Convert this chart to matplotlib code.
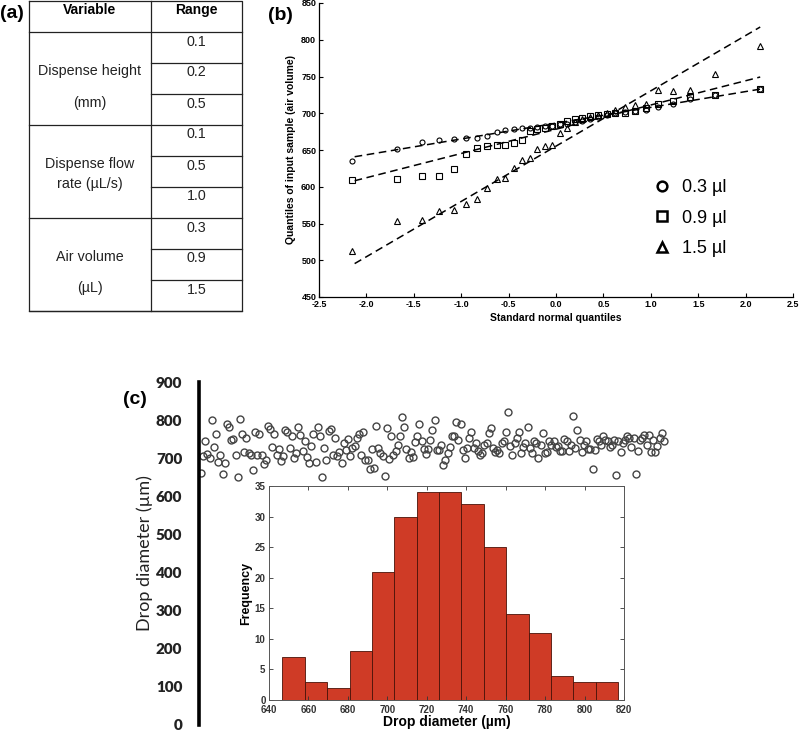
import numpy as np
import matplotlib
matplotlib.use("Agg")
import matplotlib.pyplot as plt
from matplotlib.lines import Line2D

# ---------------- data ----------------
table_header = ["Variable", "Range"]
table_variables = [["Dispense height", "(mm)"],
                   ["Dispense flow", "rate (µL/s)"],
                   ["Air volume", "(µL)"]]
table_ranges = [["0.1", "0.2", "0.5"],
                ["0.1", "0.5", "1.0"],
                ["0.3", "0.9", "1.5"]]

qq_x = [-2.154, -1.676, -1.418, -1.231, -1.078, -0.946, -0.830, -0.725,
        -0.626, -0.533, -0.445, -0.360, -0.278, -0.197, -0.118, -0.039,
        0.039, 0.118, 0.197, 0.278, 0.360, 0.445, 0.533, 0.626,
        0.725, 0.830, 0.946, 1.078, 1.231, 1.418, 1.676, 2.154]
qq_circle = [635, 651, 661, 663, 665, 666, 667, 669, 675, 677, 678, 680, 680, 681, 682, 683,
             685, 686, 688, 690, 692, 695, 698, 700, 702, 703, 705, 708, 712, 720, 725, 733]
qq_square = [609, 610, 614, 614, 624, 644, 653, 655, 657, 657, 659, 663, 676, 679, 680, 682,
             686, 690, 692, 693, 696, 697, 699, 700, 701, 703, 707, 712, 716, 722, 725, 733]
qq_triangle = [513, 554, 555, 567, 568, 577, 584, 598, 611, 612, 626, 637, 639, 652, 655, 657,
               673, 680, 688, 692, 695, 698, 700, 704, 708, 711, 713, 731, 730, 731, 753, 791]
legend_labels = ["0.3 µl", "0.9 µl", "1.5 µl"]
qq_xticks = [-2.5, -2.0, -1.5, -1.0, -0.5, 0.0, 0.5, 1.0, 1.5, 2.0, 2.5]
qq_yticks = [450, 500, 550, 600, 650, 700, 750, 800, 850]

drop_diam = [
    662, 706, 745, 711, 701, 800, 730, 764, 690, 709, 659, 688, 790, 782, 748, 751,
    709, 651, 803, 764, 717, 753, 715, 709, 669, 770, 709, 764, 709, 685, 696, 785,
    777, 729, 764, 709, 724, 693, 706, 774, 770, 728, 757, 701, 715, 783, 761, 719,
    744, 702, 688, 732, 763, 689, 783, 757,
    652, 726, 696, 772, 777, 709, 752, 707, 716, 687, 740, 722, 750, 706, 728, 732,
    752, 763, 709, 770, 696, 696, 672, 724, 674, 785, 726, 713, 707, 654, 779, 698,
    757, 709, 719, 736, 757, 807, 783, 723, 700, 716, 704, 742, 757, 789, 744, 724,
    710, 724, 748, 774, 800, 722, 722,
    735, 682, 696, 715, 730, 759, 759, 796, 748, 789, 722, 700, 728, 752, 768, 728,
    740, 719, 709, 715, 736, 740, 765, 780, 728, 717, 722, 715, 740, 745, 770, 821,
    733, 709, 740, 752, 768, 713, 730, 740, 783, 728, 713, 744, 740, 700, 736, 765,
    713, 716, 744, 735, 744, 730,
    732, 719, 719, 751, 744, 719, 736, 811, 728, 774, 748, 716, 735, 744, 724, 724,
    672, 722, 751, 744, 735, 759, 748, 744, 730, 736, 748, 656, 744, 716, 740, 748,
    759, 752, 730, 752, 659, 719, 748, 752, 761, 735, 761, 717, 748, 717, 733, 752,
    765, 744]
drop_yticks = [0, 100, 200, 300, 400, 500, 600, 700, 800, 900]

hist_edges = [646.8, 658.15, 669.5, 680.85, 692.2, 703.55, 714.9, 726.25, 737.6,
              748.95, 760.3, 771.65, 783.0, 794.35, 805.7, 817.05]
hist_counts = [7, 3, 2, 8, 21, 30, 34, 34, 32, 25, 14, 11, 4, 3, 3]
hist_xticks = [640, 660, 680, 700, 720, 740, 760, 780, 800, 820]
hist_yticks = [0, 5, 10, 15, 20, 25, 30, 35]

# ---------------- figure ----------------
W, H = 800, 734
fig = plt.figure(figsize=(W / 100, H / 100), dpi=100)
fig.patch.set_facecolor("white")
SANS = ["Liberation Sans", "DejaVu Sans"]
LATO = ["Lato", "DejaVu Sans"]

# ---------- (a) table ----------
ax_a = fig.add_axes([0, 0, 1, 1])
ax_a.set_xlim(0, W)
ax_a.set_ylim(H, 0)
ax_a.axis("off")
x_left, x_mid, x_right = 29, 151, 242
y_top, y_head, row_h = 1, 32, 31
n_rows = sum(len(r) for r in table_ranges)
y_bottom = y_head + n_rows * row_h
lw_t = 0.9
tc = "#222222"
ax_a.plot([x_left, x_right, x_right, x_left, x_left],
          [y_top, y_top, y_bottom, y_bottom, y_top], color=tc, lw=lw_t)
ax_a.plot([x_mid, x_mid], [y_top, y_bottom], color=tc, lw=lw_t)
ax_a.plot([x_left, x_right], [y_head, y_head], color=tc, lw=lw_t)
ax_a.text((x_left + x_mid) / 2, 10, table_header[0], ha="center", va="center",
          fontsize=10, fontweight="bold", family=SANS)
ax_a.text((x_mid + x_right) / 2, 10, table_header[1], ha="center", va="center",
          fontsize=10, fontweight="bold", family=SANS)
line2_offsets = [71, 59, 70]
r = 0
for g, (vars_, ranges) in enumerate(zip(table_variables, table_ranges)):
    g_top = y_head + r * row_h
    ax_a.text((x_left + x_mid) / 2, g_top + 39, vars_[0], ha="center", va="center",
              fontsize=10.3, family=SANS, color=tc)
    ax_a.text((x_left + x_mid) / 2, g_top + line2_offsets[g], vars_[1], ha="center",
              va="center", fontsize=10.3, family=SANS, color=tc)
    for k, val in enumerate(ranges):
        top = y_head + r * row_h
        ax_a.text((x_mid + x_right) / 2, top + 9.5, val, ha="center", va="center",
                  fontsize=10.3, family=SANS, color=tc)
        if k > 0:
            ax_a.plot([x_mid, x_right], [top, top], color=tc, lw=lw_t)
        r += 1
    g_bot = y_head + r * row_h
    ax_a.plot([x_left, x_right], [g_bot, g_bot], color=tc, lw=lw_t)
ax_a.text(0, 14, "(a)", ha="left", va="center", fontsize=14, fontweight="bold", family=SANS)
ax_a.text(268, 16, "(b)", ha="left", va="center", fontsize=14, fontweight="bold", family=SANS)
ax_a.text(147, 400, "(c)", ha="right", va="center", fontsize=14, fontweight="bold", family=SANS)

# ---------- (b) Q-Q plot ----------
def fpos(x0, y0, x1, y1):
    return [x0 / W, 1 - y1 / H, (x1 - x0) / W, (y1 - y0) / H]

ax_b = fig.add_axes(fpos(319, 3, 793, 297))
ax_b.patch.set_alpha(0)
qx = np.array(qq_x)
series = [(qq_circle, "o", 3.6), (qq_square, "s", 4.6), (qq_triangle, "^", 4.8)]
z_q1, z_q3 = -0.6745, 0.6745
for ys, mk, ms in series:
    ys = np.array(ys, dtype=float)
    ax_b.plot(qx, ys, linestyle="none", marker=mk, ms=ms, mfc="none", mec="black", mew=0.8)
    s = np.sort(ys)
    n = len(s)
    q1 = (s[n // 4 - 1] + s[n // 4]) / 2
    q3 = (s[3 * n // 4 - 1] + s[3 * n // 4]) / 2
    slope = (q3 - q1) / (z_q3 - z_q1)
    icpt = q1 - slope * z_q1
    lx = np.array([qx[0] + 0.03, qx[-1]])
    ax_b.plot(lx, icpt + slope * lx, color="black", lw=1.1, linestyle=(0, (5, 3)))
ax_b.set_xlim(-2.5, 2.5)
ax_b.set_ylim(450, 850)
ax_b.set_xticks(qq_xticks)
ax_b.set_xticklabels([f"{v:.1f}" for v in qq_xticks])
ax_b.set_yticks(qq_yticks)
for sp in ["top", "right"]:
    ax_b.spines[sp].set_visible(False)
for sp in ["left", "bottom"]:
    ax_b.spines[sp].set_linewidth(0.9)
ax_b.tick_params(direction="in", length=3, width=0.8, labelsize=6.5, pad=2)
for lab in ax_b.get_xticklabels() + ax_b.get_yticklabels():
    lab.set_fontweight("bold")
    lab.set_family(SANS)
ax_b.set_xlabel("Standard normal quantiles", fontsize=7.5, fontweight="bold",
                family=SANS, labelpad=3)
ax_b.set_ylabel("Quantiles of input sample (air volume)", fontsize=7.5,
                fontweight="bold", family=SANS, labelpad=4)
handles = [Line2D([], [], linestyle="none", marker=m, ms=7, mfc="none", mec="black", mew=1.8)
           for m in ["o", "s", "^"]]
ax_b.legend(handles, legend_labels, loc="upper left", bbox_to_anchor=(0.69, 0.425),
            frameon=False, prop={"family": SANS, "size": 13}, handlelength=1.0,
            handletextpad=0.6, labelspacing=0.75, borderaxespad=0)

# ---------- (c) scatter ----------
ax_c = fig.add_axes(fpos(199, 382, 668, 725))
ax_c.patch.set_alpha(0)
idx = np.arange(len(drop_diam))
ax_c.plot(idx, drop_diam, linestyle="none", marker="o", ms=5, mfc="none",
          mec="#444444", mew=1.0)
ax_c.set_xlim(-0.9, len(drop_diam) + 0.9)
ax_c.set_ylim(0, 900)
ax_c.set_yticks(drop_yticks)
ax_c.set_xticks([])
for sp in ["top", "right", "bottom"]:
    ax_c.spines[sp].set_visible(False)
ax_c.spines["left"].set_linewidth(2.6)
ax_c.tick_params(axis="y", length=0, pad=12, labelsize=11)
for lab in ax_c.get_yticklabels():
    lab.set_fontweight("heavy")
    lab.set_family(LATO)
    lab.set_color("#222222")
ax_c.set_ylabel("Drop diameter (µm)", fontsize=13, family=LATO,
                color="#222222", labelpad=2)

# ---------- (c) histogram inset ----------
ax_h = fig.add_axes(fpos(269, 486, 624, 700))
ax_h.set_facecolor("white")
edges = np.array(hist_edges)
ax_h.bar(edges[:-1], hist_counts, width=np.diff(edges), align="edge",
         color="#CF3B26", edgecolor="#4a1208", linewidth=0.6)
ax_h.set_xlim(640, 820)
ax_h.set_ylim(0, 35)
ax_h.set_xticks(hist_xticks)
ax_h.set_yticks(hist_yticks)
for sp in ax_h.spines.values():
    sp.set_linewidth(0.7)
    sp.set_color("#555555")
ax_h.tick_params(direction="in", length=3, width=0.6, top=True, right=True,
                 labelsize=7, pad=2, colors="#333333")
ax_h.tick_params(axis="x", pad=3.5)
ax_h.tick_params(axis="y", pad=2.5)
for lab in ax_h.get_xticklabels() + ax_h.get_yticklabels():
    lab.set_fontweight("bold")
    lab.set_family(SANS)
ax_h.set_xlabel("Drop diameter (µm)", fontsize=10, fontweight="bold", family=SANS,
                labelpad=0)
ax_h.set_ylabel("Frequency", fontsize=9, fontweight="bold", family=SANS, labelpad=2)

fig.savefig("out.png", dpi=100, facecolor="white")
